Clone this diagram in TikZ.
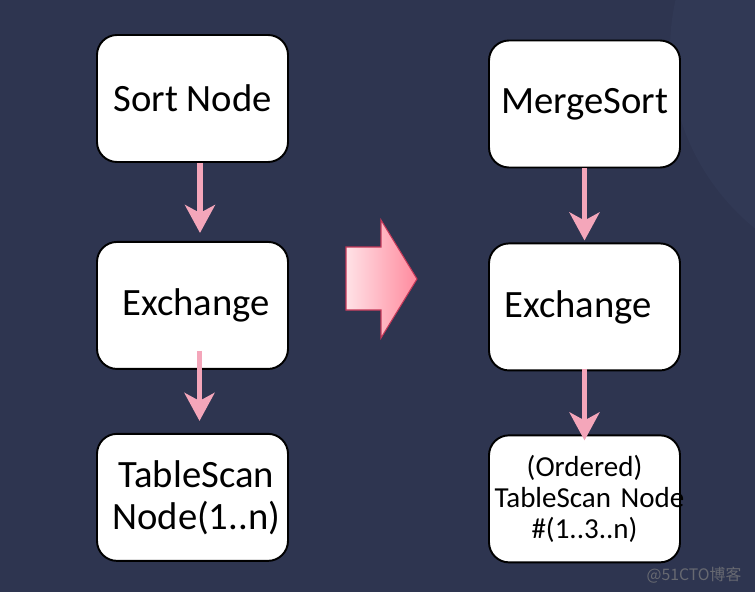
\documentclass[tikz,border=0pt]{standalone}
\usepackage{fontspec}
\setmainfont{Carlito}
\newfontfamily\cjkfont{Noto Sans CJK SC}
\usepackage{tikz}
\usetikzlibrary{positioning,arrows.meta}
\usepackage{xcolor}
\definecolor{PlanNavy}{RGB}{46,53,80}
\definecolor{PlanNavyLight}{RGB}{49,57,85}
\definecolor{PlanPink}{RGB}{244,166,186}
\definecolor{PlanRose}{RGB}{255,138,158}
\definecolor{PlanBlush}{RGB}{255,226,230}
\definecolor{PlanRim}{RGB}{196,56,88}

\begin{document}
\begin{tikzpicture}[
planbox/.style={rectangle,rounded corners=4mm,draw=black,line width=1.1pt,fill=white,
minimum width=3.82cm,minimum height=2.54cm,inner sep=1mm,align=center,
font=\fontsize{22}{24}\selectfont},
flow/.style={-{Stealth[length=5.6mm,width=6mm,inset=1.6mm]},line width=3.4pt,draw=PlanPink},
rewrite/.style={draw=PlanRim,line width=0.6pt,left color=PlanBlush,right color=PlanRose}
]
\useasboundingbox (0,0) rectangle (15.1,-11.84);
\fill[PlanNavy] (0,0) rectangle (15.1,-11.84);
\begin{scope}
\clip (0,0) rectangle (15.1,-11.84);
\fill[PlanNavyLight] (18,-1) circle (4.6cm);
\end{scope}

% original plan
\node[planbox] (sort) at (3.85,-1.97) {Sort Node};
\node[planbox,below=1.56cm of sort] (exl) {\hspace*{1.5mm}Exchange};
\node[planbox,below=1.26cm of exl] (scanl) {\hspace*{1.5mm}TableScan\\\hspace*{1.5mm}Node(1..n)};

% rewritten plan
\node[planbox] (merge) at (11.69,-2.08) {MergeSort};
\node[planbox,below=1.48cm of merge] (exr) {Exchange\hspace*{2.5mm}};
\node[planbox,below=1.26cm of exr,text width=3.6cm,font=\fontsize{16.5}{17.5}\selectfont] (scanr) {(Ordered)\\\mbox{TableScan Node}\\\#(1..3..n)};

\draw[flow] ([xshift=1.5mm]sort.south) -- ([xshift=1.5mm,yshift=1.6mm]exl.north);
\draw[flow] ([xshift=1.4mm,yshift=3.8mm]exl.south) -- ([xshift=1.4mm,yshift=2.4mm]scanl.north);
\draw[flow] (merge.south) -- ([yshift=0.4mm]exr.north);
\draw[flow] ([yshift=0.4mm]exr.south) -- ([yshift=-1.2mm]scanr.north);

\draw[rewrite] (6.92,-4.94) -- (7.62,-4.94) -- (7.62,-4.40) -- (8.34,-5.58)
  -- (7.62,-6.76) -- (7.62,-6.20) -- (6.92,-6.20) -- cycle;

\node[text=gray!70!PlanNavy,font=\cjkfont\fontsize{9}{10}\selectfont,anchor=east] (mark) at (14.95,-11.5) {@51CTO博客};
\end{tikzpicture}
\end{document}
